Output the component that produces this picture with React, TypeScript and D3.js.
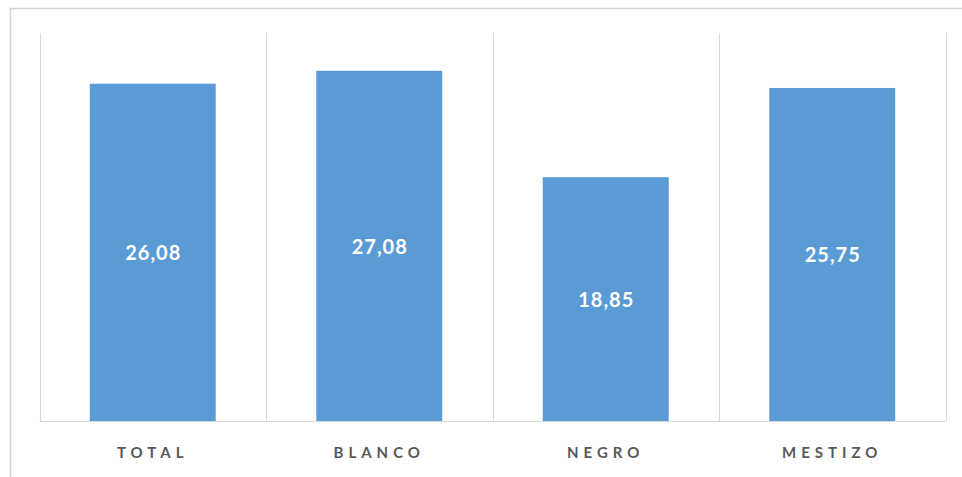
import React from "react";
import * as d3 from "d3";

const categories = ["TOTAL", "BLANCO", "NEGRO", "MESTIZO"];
const values = [26.08, 27.08, 18.85, 25.75];
const valueLabels = ["26,08", "27,08", "18,85", "25,75"];
const yDomain = [0, 30];

export default function App() {
  const W = 962;
  const H = 477;
  const left = 39.5;
  const right = 945.5;
  const top = 33;
  const bottom = 421;

  const x = d3.scaleBand<string>().domain(categories).range([left, right]).paddingInner(0).paddingOuter(0);
  const y = d3.scaleLinear().domain(yDomain).range([bottom, top]);
  const bw = x.bandwidth() * 0.556;

  const gridXs = categories.map((c) => x(c) as number).concat([right]);

  return (
    <svg width={W} height={H} style={{ position: "absolute", left: 0, top: 0, background: "#fff" }}>
      <rect x={10.5} y={8.5} width={W + 20} height={H + 20} fill="#fff" stroke="#d3d3d3" strokeWidth={1.5} />
      {gridXs.map((gx, i) => (
        <line key={i} x1={Math.round(gx) + 0.5} x2={Math.round(gx) + 0.5} y1={top} y2={bottom} stroke="#d9d9d9" strokeWidth={1} />
      ))}
      {categories.map((c, i) => {
        const cx = (x(c) as number) + x.bandwidth() / 2;
        const yTop = y(values[i]);
        return (
          <g key={c}>
            <rect x={cx - bw / 2} y={yTop} width={bw} height={bottom - yTop} fill="#5b9bd5" />
            <text
              x={cx + 0.5}
              y={(yTop + bottom) / 2}
              textAnchor="middle"
              dominantBaseline="central"
              fill="#ffffff"
              fontFamily="Lato, 'Open Sans', sans-serif"
              fontWeight={700}
              fontSize={20}
              letterSpacing={1}
            >
              {valueLabels[i]}
            </text>
            <text
              x={cx}
              y={452}
              textAnchor="middle"
              dominantBaseline="central"
              fill="#595959"
              fontFamily="Lato, 'Open Sans', sans-serif"
              fontWeight={700}
              fontSize={15}
              letterSpacing={5}
            >
              {c}
            </text>
          </g>
        );
      })}
      <line x1={left} x2={right} y1={bottom + 0.5} y2={bottom + 0.5} stroke="#d9d9d9" strokeWidth={1} />
    </svg>
  );
}
